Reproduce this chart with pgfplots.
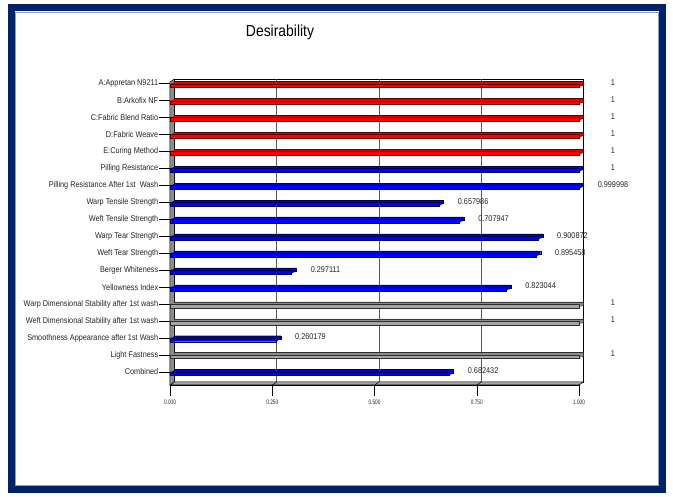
\documentclass[border=0pt]{standalone}
\usepackage{pgfplots}
\pgfplotsset{compat=1.18}
\usepackage{pgfplotstable}
\usepackage{fontspec}
\setmainfont{Liberation Sans}
\newfontfamily\narrowfont{Liberation Sans}[FakeStretch=0.87]
\newfontfamily\ticknarrow{Liberation Sans}[FakeStretch=0.72]

\definecolor{framecol}{RGB}{0,34,102}
\definecolor{frameinner}{RGB}{140,158,196}
\definecolor{redfront}{RGB}{255,0,0}
\definecolor{redtop}{RGB}{225,0,0}
\definecolor{rededge}{RGB}{90,0,0}
\definecolor{bluefront}{RGB}{0,0,255}
\definecolor{bluetop}{RGB}{0,0,215}
\definecolor{blueedge}{RGB}{0,0,80}
\definecolor{grayfront}{RGB}{165,165,165}
\definecolor{graytop}{RGB}{140,140,140}
\definecolor{grayedge}{RGB}{45,45,45}
\definecolor{wallgray}{RGB}{140,140,140}

% factors (red)
\pgfplotstableread{
row value label
17 1 1
16 1 1
15 1 1
14 1 1
13 1 1
}\factors
% responses (blue)
\pgfplotstableread{
row value label
12 1 1
11 0.999998 0.999998
10 0.657986 0.657986
9 0.707947 0.707947
8 0.900872 0.900872
7 0.895458 0.895458
6 0.297111 0.297111
5 0.823044 0.823044
2 0.260179 0.260179
0 0.682432 0.682432
}\responses
% responses shown in gray
\pgfplotstableread{
row value label
4 1 1
3 1 1
1 1 1
}\grayresp

% depth of the 3D look
\def\dx{4.5pt}
\def\dy{3pt}

\pgfplotsset{
  barbase/.style={xbar, bar width=3.5pt, bar shift=0pt, line width=0.45pt},
}

% one 3D bar group: table, front colour, top colour, edge colour
\newcommand{\bars}[4]{%
  \addplot[barbase, fill=#3, draw=#4, shift={(\dx,0.5pt)}] table[x=value,y=row]{#1};
  \addplot[barbase, fill=#3, draw=none, shift={(3pt,-0.5pt)}] table[x=value,y=row]{#1};
  \addplot[barbase, fill=#3, draw=none, shift={(1.5pt,-1.25pt)}] table[x=value,y=row]{#1};
  \addplot[barbase, fill=#2, draw=#4, shift={(0pt,-2pt)},
    point meta=explicit symbolic, nodes near coords,
    nodes near coords style={anchor=center, xshift=34pt, yshift=3pt,
      font=\fontsize{8.4}{9}\narrowfont, text=black!85}]
    table[x=value,y=row,meta=label]{#1};
}

\begin{document}
\begin{tikzpicture}
\useasboundingbox (0,0) rectangle (673pt,497pt);
\fill[white] (0,0) rectangle (673pt,497pt);
\draw[framecol, line width=7pt] (11pt,7.5pt) rectangle (662.5pt,489pt);
\draw[frameinner, line width=0.8pt] (15pt,11.5pt) rectangle (658.5pt,485pt);

\node[font=\fontsize{16}{18}\narrowfont] at (280pt,465pt) {Desirability};

\begin{axis}[
  at={(170pt,112pt)}, anchor=south west,
  width=409pt, height=303pt, scale only axis,
  xmin=0, xmax=1, ymin=-0.77, ymax=17.09,
  clip=false,
  axis x line*=bottom, axis y line*=left,
  axis line style={black, line width=0.5pt},
  xtick={0,0.25,0.5,0.75,1},
  xticklabels={0.000,0.250,0.500,0.750,1.000},
  ytick={0,...,17},
  yticklabels={Combined, Light Fastness, Smoothness Appearance after 1st Wash,
    Weft Dimensional Stability after 1st wash, Warp Dimensional Stability after 1st wash,
    Yellowness Index, Berger Whiteness, Weft Tear Strength, Warp Tear Strength,
    Weft Tensile Strength, Warp Tensile Strength, Pilling Resistance After 1st\ \ Wash,
    Pilling Resistance, E:Curing Method, D:Fabric Weave, C:Fabric Blend Ratio,
    B:Arkofix NF, A:Appretan N9211},
  tick align=outside, major tick length=11pt,
  tick style={black, line width=0.5pt},
  yticklabel style={font=\fontsize{8.4}{9}\narrowfont, text=black!85, inner sep=0.6pt},
  xticklabel style={font=\fontsize{6.5}{7}\ticknarrow, text=black!85},
]
% back wall and its grid
\draw[black, line width=0.5pt] ([shift={(\dx,\dy)}]rel axis cs:0,0) rectangle ([shift={(\dx,\dy)}]rel axis cs:1,1);
\pgfplotsinvokeforeach{0.25,0.5,0.75}{
  \draw[black!65, line width=0.5pt] ([shift={(\dx,\dy)}]axis cs:#1,-0.77) -- ([shift={(\dx,\dy)}]axis cs:#1,17.09);
}
% left wall
\filldraw[fill=wallgray, draw=black, line width=0.5pt] (rel axis cs:0,0) -- (rel axis cs:0,1)
  -- ([shift={(\dx,\dy)}]rel axis cs:0,1) -- ([shift={(\dx,\dy)}]rel axis cs:0,0) -- cycle;
% floor
\filldraw[fill=grayfront, draw=black, line width=0.5pt] (rel axis cs:0,0) -- (rel axis cs:1,0)
  -- ([shift={(\dx,\dy)}]rel axis cs:1,0) -- ([shift={(\dx,\dy)}]rel axis cs:0,0) -- cycle;
\pgfplotsinvokeforeach{0.25,0.5,0.75}{
  \draw[black, line width=0.5pt] (axis cs:#1,-0.77) -- ([shift={(\dx,\dy)}]axis cs:#1,-0.77);
}

\bars{\factors}{redfront}{redtop}{rededge}
\bars{\responses}{bluefront}{bluetop}{blueedge}
\bars{\grayresp}{grayfront}{graytop}{grayedge}
\end{axis}
\end{tikzpicture}
\end{document}
